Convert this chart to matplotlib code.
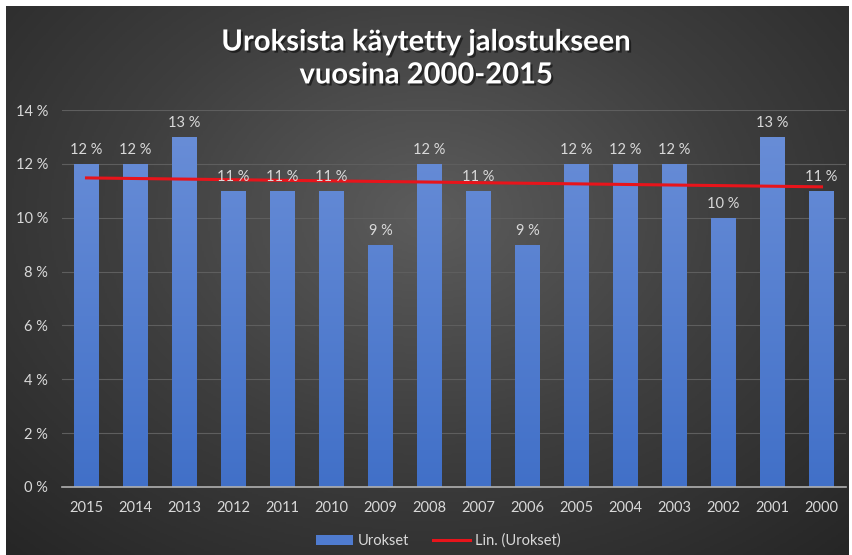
import numpy as np
import matplotlib
matplotlib.use("Agg")
import matplotlib.pyplot as plt
from matplotlib.colors import LinearSegmentedColormap
import matplotlib.patheffects as pe
from matplotlib.lines import Line2D
from matplotlib.patches import Patch

years = ["2015", "2014", "2013", "2012", "2011", "2010", "2009", "2008",
         "2007", "2006", "2005", "2004", "2003", "2002", "2001", "2000"]
values = [12, 12, 13, 11, 11, 11, 9, 12, 11, 9, 12, 12, 12, 10, 13, 11]
y_ticks = [0, 2, 4, 6, 8, 10, 12, 14]
title = "Uroksista käytetty jalostukseen\nvuosina 2000-2015"
series_name = "Urokset"
trend_name = "Lin. (Urokset)"

plt.rcParams['font.family'] = ['Lato', 'DejaVu Sans']
W, H = 852, 555
fig = plt.figure(figsize=(W / 100, H / 100), dpi=100)
fig.patch.set_facecolor("white")

# background with radial gradient
bg = fig.add_axes([6 / W, 0, (849 - 6) / W, (555 - 6) / H])
bg.set_axis_off()
yy, xx = np.mgrid[0:1:300j, 0:1:460j]
r = np.sqrt(((xx - 0.5) / 0.75) ** 2 + ((yy - 0.62) / 0.85) ** 2)
r = np.clip(r / r.max(), 0, 1)
bgcmap = LinearSegmentedColormap.from_list("bg", ["#5c5c5c", "#3e3e3e", "#262626"])
bg.imshow(r, cmap=bgcmap, aspect="auto", extent=[0, 1, 0, 1], origin="lower")
bg.set_xlim(0, 1)
bg.set_ylim(0, 1)

ax = fig.add_axes([62 / W, 1 - 487 / H, (846 - 62) / W, (487 - 110) / H])
ax.set_facecolor("none")
x = np.arange(len(values))
bars = ax.bar(x, values, width=0.51, color="#5580d0", zorder=3)
barcmap = LinearSegmentedColormap.from_list("bar", ["#4170c8", "#6b8fd8"])
grad = np.linspace(0, 1, 256).reshape(-1, 1)
for b in bars:
    b.set_facecolor("none")
    bx = b.get_x()
    im = ax.imshow(grad, cmap=barcmap, aspect="auto", origin="lower",
                   extent=[bx, bx + b.get_width(), 0, 14], zorder=3)
    im.set_clip_path(b)
    ax.annotate(f"{b.get_height():.0f} %", (bx + b.get_width() / 2, b.get_height()),
                xytext=(0, 5), textcoords="offset points", ha="center", va="bottom",
                color="#d9d9d9", fontsize=10.5, zorder=5)

coef = np.polyfit(x, values, 1)
ax.plot(x, np.polyval(coef, x), color="#e8141b", lw=2.2, zorder=4)

ax.set_xlim(-0.5, len(values) - 0.5)
ax.set_ylim(0, 14)
ax.set_yticks(y_ticks)
ax.set_yticklabels([f"{v} %" for v in y_ticks])
ax.set_xticks(x)
ax.set_xticklabels(years)
ax.tick_params(axis="both", length=0, colors="#d9d9d9", labelsize=10.5)
ax.tick_params(axis="y", pad=10)
ax.tick_params(axis="x", pad=10)
ax.grid(axis="y", color="#5e5e5e", lw=0.8, zorder=0)
for s in ["top", "right", "left"]:
    ax.spines[s].set_visible(False)
ax.spines["bottom"].set_color("#b0b0b0")
ax.spines["bottom"].set_linewidth(1.2)
ax.spines["bottom"].set_zorder(6)

fig.text(0.5, 1 - 59 / H, title, ha="center", va="center", color="white",
         fontsize=21, fontweight="bold", linespacing=1.33,
         path_effects=[pe.withSimplePatchShadow(offset=(1.5, -1.5), shadow_rgbFace="black", alpha=0.5)])

handles = [Patch(facecolor="#4f7bcf", edgecolor="none"),
           Line2D([0], [0], color="#e8141b", lw=2.2)]
leg = fig.legend(handles, [series_name, trend_name], loc="center",
                 bbox_to_anchor=(438 / W, 1 - 541 / H), ncol=2, frameon=False,
                 fontsize=10.5, labelcolor="#d9d9d9", handlelength=2.6,
                 handleheight=0.6, handletextpad=0.3, columnspacing=1.6)

fig.savefig("out.png", dpi=100)
